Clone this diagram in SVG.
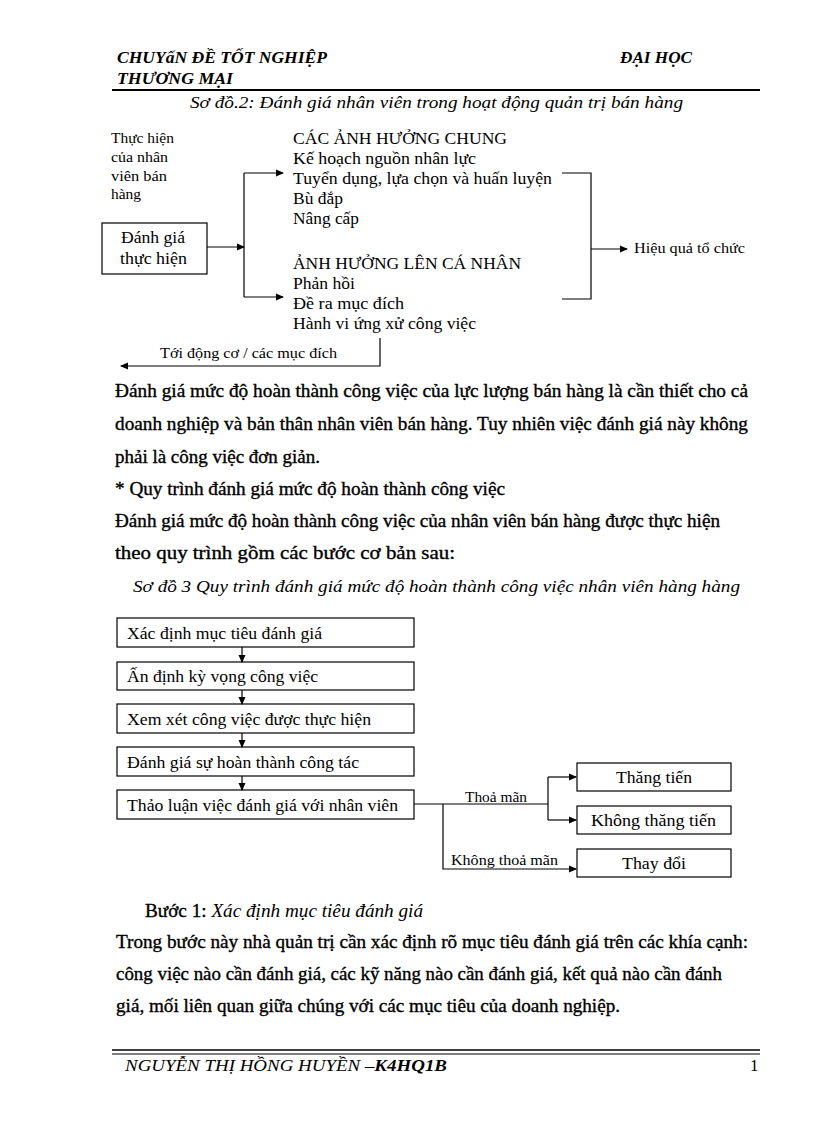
<svg xmlns="http://www.w3.org/2000/svg" width="816" height="1123" viewBox="0 0 816 1123">
<defs>
<marker id="ah" markerWidth="8" markerHeight="8" refX="7" refY="4" orient="auto" markerUnits="userSpaceOnUse">
<path d="M0,0.5 L8,4 L0,7.5 Z" fill="#000"/>
</marker>
</defs>
<style>
text{font-family:"Liberation Serif","Times New Roman",serif;fill:#000}
.hd{font-size:17px;font-style:italic;font-weight:bold}
.cap{font-size:17px;font-style:italic}
.sm{font-size:14px}
.md{font-size:16px}
.lg{font-size:17px}
.body{font-size:18px;stroke:#000;stroke-width:0.35}
.box{fill:#fff;stroke:#000;stroke-width:1.2}
.ln{fill:none;stroke:#000;stroke-width:1.2}
</style>
<rect width="816" height="1123" fill="#fff"/>

<!-- header -->
<text class="hd" x="117" y="63" textLength="210" lengthAdjust="spacingAndGlyphs">CHUYấN ĐỀ TỐT NGHIỆP</text>
<text class="hd" x="620" y="63" textLength="72" lengthAdjust="spacingAndGlyphs">ĐẠI HỌC</text>
<text class="hd" x="117" y="84" textLength="116" lengthAdjust="spacingAndGlyphs">THƯƠNG  MẠI</text>
<line x1="112" y1="90" x2="760" y2="90" stroke="#000" stroke-width="2"/>
<text class="cap" x="190" y="108" textLength="493" lengthAdjust="spacingAndGlyphs">Sơ đồ.2: Đánh giá nhân viên trong hoạt động quản trị bán hàng</text>

<!-- diagram 1 -->
<g id="lbl-thuchien">
<text class="sm" x="111" y="143" textLength="63" lengthAdjust="spacingAndGlyphs">Thực hiện</text>
<text class="sm" x="111" y="162" textLength="57" lengthAdjust="spacingAndGlyphs">của nhân</text>
<text class="sm" x="111" y="181" textLength="56" lengthAdjust="spacingAndGlyphs">viên  bán</text>
<text class="sm" x="111" y="199" textLength="30" lengthAdjust="spacingAndGlyphs">hàng</text>
</g>
<g id="n-danhgia">
<rect class="box" x="102" y="223" width="105" height="51"/>
<text class="md" x="121" y="243" textLength="64" lengthAdjust="spacingAndGlyphs">Đánh  giá</text>
<text class="md" x="120" y="264" textLength="67" lengthAdjust="spacingAndGlyphs">thực hiện</text>
</g>
<g id="n-chung">
<text class="lg" x="293" y="144" textLength="214" lengthAdjust="spacingAndGlyphs">CÁC  ẢNH  HƯỞNG  CHUNG</text>
<text class="md" x="293" y="164" textLength="183" lengthAdjust="spacingAndGlyphs">Kế hoạch nguồn  nhân  lực</text>
<text class="md" x="293" y="184" textLength="259" lengthAdjust="spacingAndGlyphs">Tuyển  dụng,  lựa chọn và  huấn  luyện</text>
<text class="md" x="293" y="204" textLength="50" lengthAdjust="spacingAndGlyphs">Bù đắp</text>
<text class="md" x="293" y="224" textLength="66" lengthAdjust="spacingAndGlyphs">Nâng  cấp</text>
</g>
<g id="n-canhan">
<text class="lg" x="293" y="269" textLength="228" lengthAdjust="spacingAndGlyphs">ẢNH  HƯỞNG  LÊN  CÁ  NHÂN</text>
<text class="md" x="293" y="289" textLength="62" lengthAdjust="spacingAndGlyphs">Phản  hồi</text>
<text class="md" x="293" y="309" textLength="111" lengthAdjust="spacingAndGlyphs">Đề ra mục  đích</text>
<text class="md" x="293" y="329" textLength="183" lengthAdjust="spacingAndGlyphs">Hành  vi  ứng  xử  công  việc</text>
</g>
<g id="n-hieuqua">
<text class="sm" x="634" y="253" textLength="111" lengthAdjust="spacingAndGlyphs">Hiệu  quả tổ chức</text>
</g>
<g id="lbl-toi">
<text class="sm" x="160" y="358" textLength="177" lengthAdjust="spacingAndGlyphs">Tới  động  cơ / các mục  đích</text>
</g>

<g id="connectors1">
<line class="ln" x1="207" y1="247" x2="244" y2="247" marker-end="url(#ah)"/>
<line class="ln" x1="244" y1="173" x2="244" y2="297"/>
<line class="ln" x1="244" y1="173" x2="283" y2="173" marker-end="url(#ah)"/>
<line class="ln" x1="244" y1="297" x2="283" y2="297" marker-end="url(#ah)"/>
<polyline class="ln" points="562,173 591,173 591,299 562,299"/>
<line class="ln" x1="591" y1="249" x2="627" y2="249" marker-end="url(#ah)"/>
<polyline class="ln" points="380,338 380,366 121,366" marker-end="url(#ah)"/>
</g>

<!-- body text -->
<text class="body" x="115" y="397" textLength="633" lengthAdjust="spacingAndGlyphs">Đánh giá  mức độ hoàn thành  công việc  của lực  lượng bán hàng là  cần thiết  cho cả</text>
<text class="body" x="115" y="430" textLength="633" lengthAdjust="spacingAndGlyphs">doanh nghiệp  và bản thân nhân viên  bán hàng.  Tuy nhiên  việc đánh giá  này không</text>
<text class="body" x="115" y="463" textLength="205" lengthAdjust="spacingAndGlyphs">phải là  công việc  đơn giản.</text>
<text class="body" x="115" y="495" textLength="390" lengthAdjust="spacingAndGlyphs">* Quy trình đánh giá  mức độ hoàn thành  công việc</text>
<text class="body" x="115" y="527" textLength="605" lengthAdjust="spacingAndGlyphs">Đánh giá  mức độ hoàn thành  công việc  của nhân viên  bán hàng được thực hiện</text>
<text class="body" x="115" y="559" textLength="340" lengthAdjust="spacingAndGlyphs">theo quy trình gồm các bước cơ bản sau:</text>
<text class="cap" x="133" y="592" textLength="607" lengthAdjust="spacingAndGlyphs">Sơ đồ 3 Quy trình đánh giá mức độ hoàn thành công việc nhân viên hàng hàng</text>

<!-- diagram 2 -->
<g id="s1"><rect class="box" x="117" y="618" width="297" height="29"/><text class="md" x="127" y="639" textLength="195" lengthAdjust="spacingAndGlyphs">Xác định  mục  tiêu đánh  giá</text></g>
<g id="s2"><rect class="box" x="117" y="662" width="297" height="28"/><text class="md" x="127" y="682" textLength="191" lengthAdjust="spacingAndGlyphs">Ấn  định kỳ vọng  công  việc</text></g>
<g id="s3"><rect class="box" x="117" y="704" width="297" height="29"/><text class="md" x="127" y="725" textLength="244" lengthAdjust="spacingAndGlyphs">Xem  xét  công  việc  được thực  hiện</text></g>
<g id="s4"><rect class="box" x="117" y="747" width="297" height="29"/><text class="md" x="127" y="768" textLength="232" lengthAdjust="spacingAndGlyphs">Đánh  giá sự hoàn  thành  công  tác</text></g>
<g id="s5"><rect class="box" x="117" y="790" width="297" height="29"/><text class="md" x="127" y="811" textLength="271" lengthAdjust="spacingAndGlyphs">Thảo  luận  việc  đánh  giá  với  nhân  viên</text></g>
<g id="r1"><rect class="box" x="577" y="763" width="154" height="28"/><text class="md" x="616" y="783" textLength="76" lengthAdjust="spacingAndGlyphs">Thăng  tiến</text></g>
<g id="r2"><rect class="box" x="577" y="806" width="154" height="28"/><text class="md" x="591" y="826" textLength="125" lengthAdjust="spacingAndGlyphs">Không  thăng  tiến</text></g>
<g id="r3"><rect class="box" x="577" y="849" width="154" height="28"/><text class="md" x="622" y="869" textLength="64" lengthAdjust="spacingAndGlyphs">Thay  đổi</text></g>
<text class="sm" x="465" y="802" textLength="62" lengthAdjust="spacingAndGlyphs">Thoả mãn</text>
<text class="sm" x="451" y="865" textLength="107" lengthAdjust="spacingAndGlyphs">Không  thoả mãn</text>

<g id="connectors2">
<line class="ln" x1="242" y1="647" x2="242" y2="662" marker-end="url(#ah)"/>
<line class="ln" x1="242" y1="690" x2="242" y2="704" marker-end="url(#ah)"/>
<line class="ln" x1="242" y1="733" x2="242" y2="747" marker-end="url(#ah)"/>
<line class="ln" x1="242" y1="776" x2="242" y2="790" marker-end="url(#ah)"/>
<line class="ln" x1="414" y1="804" x2="548" y2="804"/>
<line class="ln" x1="548" y1="777" x2="548" y2="820"/>
<line class="ln" x1="548" y1="777" x2="576" y2="777" marker-end="url(#ah)"/>
<line class="ln" x1="548" y1="820" x2="576" y2="820" marker-end="url(#ah)"/>
<polyline class="ln" points="443,804 443,869 576,869" marker-end="url(#ah)"/>
</g>

<!-- bottom text -->
<text class="body" x="145" y="917" textLength="278" lengthAdjust="spacingAndGlyphs">Bước 1: <tspan font-style="italic" stroke-width="0">Xác định mục tiêu đánh giá</tspan></text>
<text class="body" x="116" y="948" textLength="632" lengthAdjust="spacingAndGlyphs">Trong bước này nhà quản trị  cần xác định rõ mục tiêu  đánh giá trên  các khía cạnh:</text>
<text class="body" x="116" y="980" textLength="606" lengthAdjust="spacingAndGlyphs">công việc nào cần đánh giá,  các kỹ năng nào cần đánh giá,  kết quả nào cần đánh</text>
<text class="body" x="116" y="1012" textLength="504" lengthAdjust="spacingAndGlyphs">giá,  mối liên  quan giữa chúng với các mục tiêu  của doanh nghiệp.</text>

<!-- footer -->
<line x1="112" y1="1050" x2="760" y2="1050" stroke="#000" stroke-width="1.5"/>
<line x1="112" y1="1054" x2="760" y2="1054" stroke="#000" stroke-width="1"/>
<text class="hd" x="125" y="1071" textLength="322" lengthAdjust="spacingAndGlyphs"><tspan font-weight="normal">NGUYỄN  THỊ  HỒNG  HUYỀN  –</tspan>K4HQ1B</text>
<text class="lg" x="750" y="1071">1</text>
</svg>
